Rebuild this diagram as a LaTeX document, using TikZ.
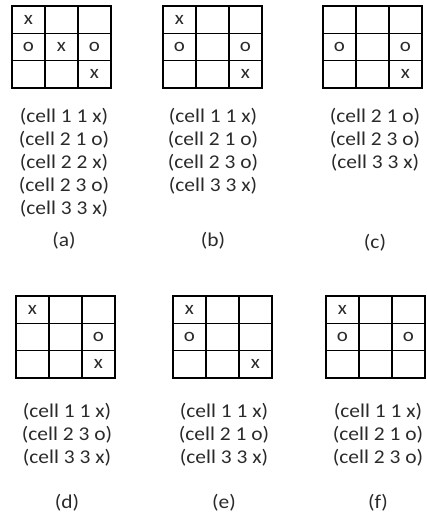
\documentclass[tikz,border=0pt]{standalone}
\usepackage{fontspec}
\setmainfont{Carlito}
\usetikzlibrary{positioning}
\definecolor{inkgray}{HTML}{2A2A2A}
\newcommand{\wide}[1]{\scalebox{1.1}[1]{#1}}

\begin{document}
\begin{tikzpicture}[x=1pt,y=-1pt,
  board/.style={line width=1.4pt, line cap=rect},
  sym/.style={font=\fontsize{19}{19}\selectfont, text=inkgray, inner sep=0pt},
  fact/.style={font=\fontsize{19.5}{19.5}\selectfont, text=inkgray, inner sep=0pt},
  tag/.style={font=\fontsize{19.5}{19.5}\selectfont, text=inkgray, inner sep=0pt}]
  \useasboundingbox (0,0) rectangle (427,527);
  % the six boards
  \foreach \bx/\by/\nm/\cells in {
      12/6/a/{1/1/x,2/1/o,2/2/x,2/3/o,3/3/x},
      163/6/b/{1/1/x,2/1/o,2/3/o,3/3/x},
      323/6/c/{2/1/o,2/3/o,3/3/x},
      16/296/d/{1/1/x,2/3/o,3/3/x},
      173/296/e/{1/1/x,2/1/o,3/3/x},
      326/296/f/{1/1/x,2/1/o,2/3/o}}{
    \draw[board] (\bx,\by) rectangle ++(99,82);
    \draw[board] (\bx+33,\by) -- ++(0,82) (\bx+66,\by) -- ++(0,82)
      (\bx,\by+27.33) -- ++(99,0) (\bx,\by+54.67) -- ++(99,0);
    \foreach \r/\c/\s in \cells
      \node[sym] (\nm\r\c) at (\bx+33*\c-16.5, \by+27.33*\r-13.67) {\wide{\s}};
  }
  % the facts under each board
  \foreach \tx/\ty/\nm/\facts in {
      64/117/a/{1 1 x,2 1 o,2 2 x,2 3 o,3 3 x},
      213/117/b/{1 1 x,2 1 o,2 3 o,3 3 x},
      375/117/c/{2 1 o,2 3 o,3 3 x},
      67/412/d/{1 1 x,2 3 o,3 3 x},
      224/412/e/{1 1 x,2 1 o,3 3 x},
      378/412/f/{1 1 x,2 1 o,2 3 o}}{
    \foreach \f [count=\i] in \facts
      \node[fact] (\nm f\i) at (\tx, \ty+23*\i-23) {\wide{(cell \f)}};
  }
  % captions
  \node[tag] (capa) at (64,241) {\wide{(a)}};
  \node[tag] (capb) at (213,241) {\wide{(b)}};
  \node[tag] (capc) at (375,243) {\wide{(c)}};
  \node[tag] (capd) at (67,503) {\wide{(d)}};
  \node[tag] (cape) at (224,503) {\wide{(e)}};
  \node[tag] (capf) at (378,503) {\wide{(f)}};
\end{tikzpicture}
\end{document}
